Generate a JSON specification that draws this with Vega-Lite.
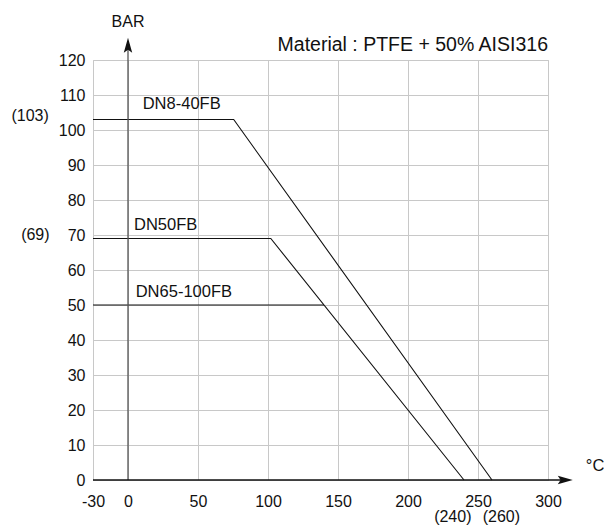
{
  "$schema": "https://vega.github.io/schema/vega-lite/v6.json",
  "width": 455,
  "height": 420,
  "autosize": {"type": "none"},
  "padding": {"left": 93, "top": 60, "right": 56, "bottom": 47},
  "background": "white",
  "config": {
    "font": "Liberation Sans",
    "view": {"stroke": "#c8c8c8", "strokeWidth": 1},
    "axis": {"labelFont": "Liberation Sans", "labelColor": "#111", "labelFontSize": 16, "gridColor": "#c8c8c8", "gridWidth": 1, "gridOpacity": 1, "domain": false, "ticks": false, "title": null, "labelOverlap": false}
  },
  "encoding": {
    "x": {"field": "x", "type": "quantitative", "scale": {"domain": [-25, 300], "nice": false, "zero": false},
      "axis": {"values": [-25, 0, 50, 100, 150, 200, 250, 300], "labelExpr": "datum.value == -25 ? '-30' : datum.label", "labelPadding": 13, "labelFlush": false}},
    "y": {"field": "y", "type": "quantitative", "scale": {"domain": [0, 120], "nice": false},
      "axis": {"values": [0, 10, 20, 30, 40, 50, 60, 70, 80, 90, 100, 110, 120], "labelPadding": 8}}
  },
  "layer": [
    {
      "data": {"values": [
        {"series": "DN8-40FB", "x": -25, "y": 103, "ord": 1},
        {"series": "DN8-40FB", "x": 75.5, "y": 103, "ord": 2},
        {"series": "DN8-40FB", "x": 260, "y": 0, "ord": 3},
        {"series": "DN50FB", "x": -25, "y": 69, "ord": 1},
        {"series": "DN50FB", "x": 102, "y": 69, "ord": 2},
        {"series": "DN50FB", "x": 240, "y": 0, "ord": 3},
        {"series": "DN65-100FB", "x": -25, "y": 50, "ord": 1},
        {"series": "DN65-100FB", "x": 140, "y": 50, "ord": 2}
      ]},
      "mark": {"type": "line", "color": "#111", "strokeWidth": 1.1},
      "encoding": {
        "detail": {"field": "series"},
        "order": {"field": "ord"}
      }
    },
    {
      "data": {"values": [{"x": 0, "y": 0, "y2": 124}]},
      "mark": {"type": "rule", "color": "#555", "strokeWidth": 1.3},
      "encoding": {
        "y2": {"field": "y2"}
      }
    },
    {
      "data": {"values": [{"x": -25, "x2": 315, "y": 0}]},
      "mark": {"type": "rule", "color": "#111", "strokeWidth": 1.3},
      "encoding": {
        "x2": {"field": "x2"}
      }
    },
    {
      "data": {"values": [{"x": 0, "y": 123.7}]},
      "mark": {"type": "point", "shape": "M0,-1L0.45,0.6L0,0.3L-0.45,0.6Z", "size": 350, "filled": true, "color": "#111", "opacity": 1},
      "encoding": {}
    },
    {
      "data": {"values": [{"x": 311, "y": 0}]},
      "mark": {"type": "point", "shape": "M1,0L-0.6,0.45L-0.3,0L-0.6,-0.45Z", "size": 350, "filled": true, "color": "#111", "opacity": 1},
      "encoding": {}
    },
    {
      "data": {"values": [
        {"x": 10.5, "y": 107.3, "label": "DN8-40FB"},
        {"x": 4.3, "y": 73.0, "label": "DN50FB"},
        {"x": 5.5, "y": 53.8, "label": "DN65-100FB"},
        {"x": 327, "y": 3.9, "label": "°C"}
      ]},
      "mark": {"type": "text", "align": "left", "baseline": "middle", "fontSize": 16.5, "color": "#111"},
      "encoding": {
        "text": {"field": "label"}
      }
    },
    {
      "data": {"values": [
        {"x": 0, "y": 131, "label": "BAR"},
        {"x": 232, "y": -10.7, "label": "(240)"},
        {"x": 266.7, "y": -10.7, "label": "(260)"}
      ]},
      "mark": {"type": "text", "align": "center", "baseline": "middle", "fontSize": 16, "color": "#111"},
      "encoding": {
        "text": {"field": "label"}
      }
    },
    {
      "data": {"values": [
        {"x": -56.6, "y": 103.9, "label": "(103)"},
        {"x": -56, "y": 70.1, "label": "(69)"}
      ]},
      "mark": {"type": "text", "align": "right", "baseline": "middle", "fontSize": 16, "color": "#111"},
      "encoding": {
        "text": {"field": "label"}
      }
    },
    {
      "data": {"values": [
        {"x": 300, "y": 124.4, "label": "Material : PTFE + 50% AISI316"}
      ]},
      "mark": {"type": "text", "align": "right", "baseline": "middle", "fontSize": 19.5, "color": "#111"},
      "encoding": {
        "text": {"field": "label"}
      }
    }
  ]
}
